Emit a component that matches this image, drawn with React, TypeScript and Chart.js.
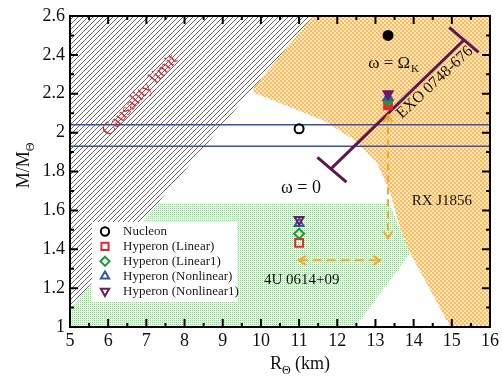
import React, { useEffect, useRef } from 'react';
import { Chart, registerables } from 'chart.js';

Chart.register(...registerables);

const FONT = "'Liberation Serif', 'Times New Roman', Times, serif";

// ---- axes ----
const xRange = [5, 16];
const yRange = [1, 2.6];
const xMajorTicks = [5, 6, 7, 8, 9, 10, 11, 12, 13, 14, 15, 16];
const xMinorTicks = [5.5, 6.5, 7.5, 8.5, 9.5, 10.5, 11.5, 12.5, 13.5, 14.5, 15.5];
const yMajorTicks = [1, 1.2, 1.4, 1.6, 1.8, 2, 2.2, 2.4, 2.6];
const yMinorTicks = [1.1, 1.3, 1.5, 1.7, 1.9, 2.1, 2.3, 2.5];

// ---- model series (R in km, M in solar masses): [static (omega=0), Kepler (omega=Omega_K)] ----
const seriesNames = ['Nucleon', 'Hyperon (Linear)', 'Hyperon (Linear1)', 'Hyperon (Nonlinear)', 'Hyperon (Nonlinear1)'];
const radiusStatic = [11.0, 11.0, 11.0, 11.0, 11.0];
const radiusKepler = [13.33, 13.33, 13.33, 13.33, 13.33];
const nucleonMass = [2.02, 2.5];
const linearMass = [1.433, 2.14];
const linear1Mass = [1.48, 2.165];
const nonlinearMass = [1.533, 2.182];
const nonlinear1Mass = [1.553, 2.2];

// ---- constraint regions ----
const causalityR = [5, 5, 11.37];
const causalityM = [1.093, 2.6, 2.6];
const rxJ1856R = [9.8, 11.64, 12.47, 13.05, 13.39, 13.73, 13.91, 14.96, 16];
const rxJ1856M = [2.207, 2.063, 1.96, 1.842, 1.688, 1.447, 1.38, 1.0, 1.0];
const u0614R = [5, 5, 13.36, 13.91, 12.09, 14];
const u0614M = [0.9, 1.637, 1.637, 1.38, 0.9, 0.9];

// ---- mass bands ----
const bandR = [5, 16];
const bandUpperM = [2.04, 2.04];
const bandLowerM = [1.93, 1.93];

// ---- EXO 0748-676 ----
const exoR = [11.84, 15.31];
const exoM = [1.815, 2.475];
const exoCapLowR = [11.48, 12.24];
const exoCapLowM = [1.873, 1.745];
const exoCapHighR = [14.93, 15.7];
const exoCapHighM = [2.541, 2.413];

// ---- arrows ----
const vArrowR = [13.33, 13.33];
const vArrowM = [2.09, 1.457];
const hArrowR = [10.99, 13.13];
const hArrowM = [1.343, 1.343];

const zip = (xs: number[], ys: number[]) => xs.map((x, i) => ({ x, y: ys[i] }));

const annotationTexts = [
  { text: 'Causality limit', x: 6.83, y: 2.192, angle: -48, size: 17.5, color: '#E4212B' },
  { text: 'EXO 0748-676', x: 14.555, y: 2.258, angle: -43, size: 16, color: '#111' },
  { text: 'ω = 0', x: 11.05, y: 1.714, angle: 0, size: 18, color: '#111' },
  { text: 'RX J1856', x: 14.74, y: 1.647, angle: 0, size: 15, color: '#111' },
  { text: '4U 0614+09', x: 11.07, y: 1.242, angle: 0, size: 15, color: '#111' },
];
const omegaKLabel = { text: 'ω = Ω', sub: 'K', x: 12.81, y: 2.335, size: 17 };

const markerStyles = [
  { color: '#000000', style: 'circle', rotation: 0, radius: 4.5 },
  { color: '#E8262B', style: 'rect', rotation: 0, radius: 5.5 },
  { color: '#1E9A3C', style: 'rectRot', rotation: 0, radius: 5 },
  { color: '#3A55A6', style: 'triangle', rotation: 0, radius: 5.2 },
  { color: '#6A1A5E', style: 'triangle', rotation: 180, radius: 5.2 },
];
const seriesMasses = [nucleonMass, linearMass, linear1Mass, nonlinearMass, nonlinear1Mass];

function makePattern(size: number, draw: (g: CanvasRenderingContext2D) => void) {
  const c = document.createElement('canvas');
  c.width = size;
  c.height = size;
  const g = c.getContext('2d') as CanvasRenderingContext2D;
  draw(g);
  return g.createPattern(c, 'repeat') as CanvasPattern;
}

function drawShape(ctx: CanvasRenderingContext2D, style: string, rot: number, r: number, x: number, y: number) {
  ctx.beginPath();
  if (style === 'circle') {
    ctx.arc(x, y, r, 0, Math.PI * 2);
  } else if (style === 'rect' || style === 'rectRot') {
    let rad = (rot * Math.PI) / 180 + (style === 'rect' ? Math.PI / 4 : 0);
    for (let k = 0; k < 4; k++) {
      const px = x + Math.sin(rad) * r;
      const py = y - Math.cos(rad) * r;
      if (k === 0) ctx.moveTo(px, py);
      else ctx.lineTo(px, py);
      rad += Math.PI / 2;
    }
  } else {
    let rad = (rot * Math.PI) / 180;
    for (let k = 0; k < 3; k++) {
      const px = x + Math.sin(rad) * r;
      const py = y - Math.cos(rad) * r;
      if (k === 0) ctx.moveTo(px, py);
      else ctx.lineTo(px, py);
      rad += (2 * Math.PI) / 3;
    }
  }
  ctx.closePath();
}

const overlayPlugin = {
  id: 'overlay',
  afterDatasetDraw(chart: any, args: any) {
    const ds = chart.data.datasets[args.index];
    if (!ds.arrowHeads) return;
    const { ctx } = chart;
    const xs = chart.scales.x;
    const ys = chart.scales.y;
    const pts = ds.data.map((p: any) => ({ x: xs.getPixelForValue(p.x), y: ys.getPixelForValue(p.y) }));
    ctx.save();
    ctx.strokeStyle = ds.borderColor;
    ctx.lineWidth = 2;
    ctx.setLineDash([]);
    const head = (tip: any, from: any) => {
      const dx = tip.x - from.x;
      const dy = tip.y - from.y;
      const len = Math.hypot(dx, dy) || 1;
      const ux = dx / len;
      const uy = dy / len;
      const bx = tip.x - ux * 7;
      const by = tip.y - uy * 7;
      ctx.beginPath();
      ctx.moveTo(bx - uy * 4.5, by + ux * 4.5);
      ctx.lineTo(tip.x, tip.y);
      ctx.lineTo(bx + uy * 4.5, by - ux * 4.5);
      ctx.stroke();
    };
    head(pts[pts.length - 1], pts[0]);
    head(pts[0], pts[pts.length - 1]);
    ctx.restore();
  },
  afterDatasetsDraw(chart: any) {
    const { ctx, chartArea: a } = chart;
    const xs = chart.scales.x;
    const ys = chart.scales.y;
    ctx.save();
    // annotations
    for (const t of annotationTexts) {
      ctx.save();
      ctx.translate(xs.getPixelForValue(t.x), ys.getPixelForValue(t.y));
      ctx.rotate((t.angle * Math.PI) / 180);
      ctx.font = `${t.size}px ${FONT}`;
      ctx.fillStyle = t.color;
      ctx.textAlign = 'center';
      ctx.textBaseline = 'middle';
      ctx.fillText(t.text, 0, 0);
      ctx.restore();
    }
    {
      const px = xs.getPixelForValue(omegaKLabel.x);
      const py = ys.getPixelForValue(omegaKLabel.y);
      ctx.font = `${omegaKLabel.size}px ${FONT}`;
      ctx.fillStyle = '#111';
      ctx.textAlign = 'left';
      ctx.textBaseline = 'alphabetic';
      ctx.fillText(omegaKLabel.text, px, py);
      const w = ctx.measureText(omegaKLabel.text).width;
      ctx.font = `${Math.round(omegaKLabel.size * 0.62)}px ${FONT}`;
      ctx.fillText(omegaKLabel.sub, px + w + 1, py + 4);
    }
    // legend
    const bx = a.left + 22;
    const by = a.top + 206;
    ctx.fillStyle = '#ffffff';
    ctx.fillRect(bx, by, 145, 80);
    ctx.font = `13px ${FONT}`;
    ctx.textAlign = 'left';
    ctx.textBaseline = 'middle';
    seriesNames.forEach((name, i) => {
      const ms = markerStyles[i];
      const cy = by + 9.5 + i * 14.9;
      ctx.lineWidth = 2;
      ctx.strokeStyle = ms.color;
      drawShape(ctx, ms.style, ms.rotation, ms.radius * 0.92, bx + 13, cy);
      ctx.stroke();
      ctx.fillStyle = '#1a1a1a';
      ctx.fillText(name, bx + 31, cy + 0.5);
    });
    ctx.restore();
  },
  afterDraw(chart: any) {
    const { ctx, chartArea: a } = chart;
    const xs = chart.scales.x;
    const ys = chart.scales.y;
    ctx.save();
    ctx.strokeStyle = '#000';
    ctx.lineWidth = 2;
    ctx.strokeRect(a.left, a.top, a.right - a.left, a.bottom - a.top);
    const xt = (vals: number[], len: number) => {
      for (const v of vals) {
        const p = xs.getPixelForValue(v);
        ctx.beginPath();
        ctx.moveTo(p, a.bottom);
        ctx.lineTo(p, a.bottom - len);
        ctx.moveTo(p, a.top);
        ctx.lineTo(p, a.top + len);
        ctx.stroke();
      }
    };
    const yt = (vals: number[], len: number) => {
      for (const v of vals) {
        const p = ys.getPixelForValue(v);
        ctx.beginPath();
        ctx.moveTo(a.left, p);
        ctx.lineTo(a.left + len, p);
        ctx.moveTo(a.right, p);
        ctx.lineTo(a.right - len, p);
        ctx.stroke();
      }
    };
    xt(xMajorTicks, 8);
    xt(xMinorTicks, 4);
    yt(yMajorTicks, 8);
    yt(yMinorTicks, 4);

    // axis titles
    ctx.fillStyle = '#111';
    ctx.textBaseline = 'alphabetic';
    ctx.textAlign = 'left';
    {
      const big = `18px ${FONT}`;
      const small = `12px ${FONT}`;
      ctx.font = big;
      const w1 = ctx.measureText('R').width;
      const w3 = ctx.measureText(' (km)').width;
      ctx.font = small;
      const w2 = ctx.measureText('Θ').width;
      const total = w1 + w2 + w3;
      let sx = (a.left + a.right) / 2 + 20 - total / 2;
      const base = 369;
      ctx.font = big;
      ctx.fillText('R', sx, base);
      ctx.font = small;
      ctx.fillText('Θ', sx + w1, base + 5);
      ctx.font = big;
      ctx.fillText(' (km)', sx + w1 + w2, base);
    }
    {
      ctx.save();
      ctx.translate(29, (a.top + a.bottom) / 2);
      ctx.rotate(-Math.PI / 2);
      const big = `18px ${FONT}`;
      const small = `12px ${FONT}`;
      ctx.font = big;
      const w1 = ctx.measureText('M/M').width;
      ctx.font = small;
      const w2 = ctx.measureText('Θ').width;
      const sx = -(w1 + w2) / 2 + 6;
      ctx.font = big;
      ctx.fillText('M/M', sx, 0);
      ctx.font = small;
      ctx.fillText('Θ', sx + w1, 5);
      ctx.restore();
    }
    ctx.restore();
  },
};

export default function App() {
  const ref = useRef<HTMLCanvasElement>(null);
  useEffect(() => {
    const canvas = ref.current as HTMLCanvasElement;

    const hatch = makePattern(5, (g) => {
      g.fillStyle = '#ffffff';
      g.fillRect(0, 0, 5, 5);
      g.strokeStyle = '#555555';
      g.lineWidth = 0.9;
      g.beginPath();
      g.moveTo(0, 5);
      g.lineTo(5, 0);
      g.moveTo(-1, 1);
      g.lineTo(1, -1);
      g.moveTo(4, 6);
      g.lineTo(6, 4);
      g.stroke();
    });
    const orange = makePattern(4, (g) => {
      g.fillStyle = 'rgb(255,186,84)';
      g.fillRect(0, 0, 2, 2);
      g.fillRect(2, 2, 2, 2);
      g.fillStyle = 'rgb(255,228,186)';
      g.fillRect(2, 0, 2, 2);
      g.fillRect(0, 2, 2, 2);
      g.fillStyle = '#ffffff';
      g.fillRect(3, 1, 1, 1);
      g.fillRect(1, 3, 1, 1);
    });
    const green = makePattern(2, (g) => {
      g.fillStyle = '#ffffff';
      g.fillRect(0, 0, 2, 2);
      g.fillStyle = 'rgb(110,235,110)';
      g.fillRect(0, 0, 1, 1);
      g.fillStyle = 'rgb(205,248,205)';
      g.fillRect(1, 1, 1, 1);
    });

    const lineBase = {
      type: 'line',
      pointRadius: 0,
      pointHoverRadius: 0,
      tension: 0,
      fill: false,
    };

    const regionDatasets: any[] = [
      { ...lineBase, label: 'RX J1856', data: zip(rxJ1856R, rxJ1856M), fill: 'end', backgroundColor: orange, borderColor: 'rgba(0,0,0,0)', borderWidth: 0, order: 103 },
      { ...lineBase, label: '4U 0614+09', data: zip(u0614R, u0614M), fill: 'shape', backgroundColor: green, borderColor: 'rgba(0,0,0,0)', borderWidth: 0, order: 102 },
      { ...lineBase, label: 'Causality', data: zip(causalityR, causalityM), fill: 'shape', backgroundColor: hatch, borderColor: 'rgba(0,0,0,0)', borderWidth: 0, order: 101 },
    ];

    const lineDatasets: any[] = [
      { ...lineBase, label: 'band upper', data: zip(bandR, bandUpperM), borderColor: '#3552A4', borderWidth: 1.5, order: 60 },
      { ...lineBase, label: 'band lower', data: zip(bandR, bandLowerM), borderColor: '#3552A4', borderWidth: 1.5, order: 60 },
      { ...lineBase, label: 'EXO', data: zip(exoR, exoM), borderColor: '#5E1552', borderWidth: 3, order: 50 },
      { ...lineBase, label: 'EXO cap low', data: zip(exoCapLowR, exoCapLowM), borderColor: '#5E1552', borderWidth: 3, order: 50 },
      { ...lineBase, label: 'EXO cap high', data: zip(exoCapHighR, exoCapHighM), borderColor: '#5E1552', borderWidth: 3, order: 50 },
      { ...lineBase, label: 'v arrow', data: zip(vArrowR, vArrowM), borderColor: '#F5A52C', borderWidth: 2, borderDash: [7, 5], arrowHeads: true, order: 40 },
      { ...lineBase, label: 'h arrow', data: zip(hArrowR, hArrowM), borderColor: '#F5A52C', borderWidth: 2, borderDash: [9, 5], arrowHeads: true, order: 40 },
    ];

    const markerDatasets: any[] = seriesNames.map((name, i) => {
      const ms = markerStyles[i];
      return {
        type: 'scatter',
        label: name,
        data: [
          { x: radiusStatic[i], y: seriesMasses[i][0] },
          { x: radiusKepler[i], y: seriesMasses[i][1] },
        ],
        showLine: false,
        pointStyle: ms.style,
        pointRotation: ms.rotation,
        pointRadius: ms.radius,
        pointHoverRadius: ms.radius,
        pointBorderWidth: 2,
        pointBorderColor: ms.color,
        pointBackgroundColor: ['rgba(0,0,0,0)', ms.color],
        borderColor: ms.color,
        backgroundColor: ms.color,
        order: 10 - i,
      };
    });

    const chart = new Chart(canvas, {
      type: 'scatter',
      data: { datasets: [...regionDatasets, ...lineDatasets, ...markerDatasets] },
      options: {
        animation: false,
        responsive: true,
        maintainAspectRatio: false,
        events: [],
        layout: { padding: { top: 16, right: 12, left: 0, bottom: 0 } },
        plugins: { legend: { display: false }, tooltip: { enabled: false } },
        scales: {
          x: {
            type: 'linear',
            min: xRange[0],
            max: xRange[1],
            grid: { display: false, drawTicks: false },
            border: { display: false },
            ticks: {
              stepSize: 1,
              autoSkip: false,
              maxRotation: 0,
              padding: 3,
              color: '#111',
              font: { family: FONT, size: 18 },
              callback: (v: any) => String(v),
            },
            afterFit: (s: any) => {
              s.height = 49;
            },
          },
          y: {
            type: 'linear',
            min: yRange[0],
            max: yRange[1],
            grid: { display: false, drawTicks: false },
            border: { display: false },
            ticks: {
              stepSize: 0.2,
              autoSkip: false,
              padding: 5,
              color: '#111',
              font: { family: FONT, size: 18 },
              callback: (v: any) => String(Number(Number(v).toFixed(1))),
            },
            afterFit: (s: any) => {
              s.width = 70;
            },
          },
        },
      } as any,
      plugins: [overlayPlugin as any],
    } as any);
    return () => chart.destroy();
  }, []);

  return (
    <div style={{ position: 'fixed', left: 0, top: 0, width: 502, height: 376, background: '#ffffff' }}>
      <canvas ref={ref} />
    </div>
  );
}
